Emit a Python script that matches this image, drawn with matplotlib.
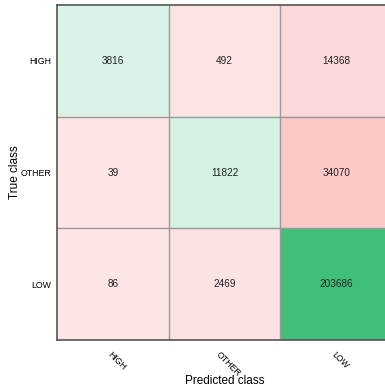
import numpy as np
import matplotlib.pyplot as plt
import matplotlib.transforms as mtransforms
from matplotlib.colors import LinearSegmentedColormap

plt.rcParams['font.family'] = ['Liberation Sans', 'DejaVu Sans']

classes = ["HIGH", "OTHER", "LOW"]
counts = [
    [3816, 492, 14368],
    [39, 11822, 34070],
    [86, 2469, 203686],
]


def cell_colours(mat):
    # diagonal in greens, misses in reds, both scaled by count
    greens = LinearSegmentedColormap.from_list("g", ["#ddf4e8", "#40bf7a"])
    reds = LinearSegmentedColormap.from_list("r", ["#fde5e5", "#fcc8c8"])
    diag_max = np.diag(mat).max()
    off = mat.copy().astype(float)
    np.fill_diagonal(off, 0)
    off_max = off.max()
    rgb = np.zeros(mat.shape + (4,))
    for i in range(mat.shape[0]):
        for j in range(mat.shape[1]):
            if i == j:
                rgb[i, j] = greens(mat[i, j] / diag_max)
            else:
                rgb[i, j] = reds(mat[i, j] / off_max)
    return rgb


if __name__ == "__main__":
    mat = np.array(counts)
    n = len(classes)

    fig = plt.figure(figsize=(3.85, 3.90), dpi=100)
    ax = fig.add_axes([57 / 385, 50 / 390, 335 / 385, 335 / 390])

    ax.imshow(cell_colours(mat), aspect="auto", interpolation="nearest",
              extent=(-0.5, n - 0.5, n - 0.5, -0.5))

    for i in range(n):
        for j in range(n):
            ax.text(j, i, str(mat[i, j]), ha="center", va="center",
                    fontsize=7.2, color="#222222")

    # cell borders
    for k in range(1, n):
        ax.axhline(k - 0.5, color="#999999", lw=1)
        ax.axvline(k - 0.5, color="#999999", lw=1)

    for side in ["left", "bottom", "top", "right"]:
        ax.spines[side].set_color("#555555")
        ax.spines[side].set_linewidth(1.2)

    ax.set_xticks(range(n))
    ax.set_yticks(range(n))
    ax.set_xticklabels(classes, rotation=-45, ha="center", va="top",
                       fontsize=6.3)
    ax.set_yticklabels(classes, fontsize=6.3)
    ax.tick_params(length=0, pad=4)
    ax.tick_params(axis="x", pad=7)

    # nudge rotated labels a little to the right
    shift = mtransforms.ScaledTranslation(4 / 100, 0, fig.dpi_scale_trans)
    for lbl in ax.get_xticklabels():
        lbl.set_transform(lbl.get_transform() + shift)

    ax.set_xlabel("Predicted class", fontsize=8.5)
    ax.set_ylabel("True class", fontsize=8.5)
    ax.xaxis.set_label_coords(0.5, -0.105)
    ax.yaxis.set_label_coords(-0.108, 0.5)

    fig.savefig("out.png", dpi=100, facecolor="white")
